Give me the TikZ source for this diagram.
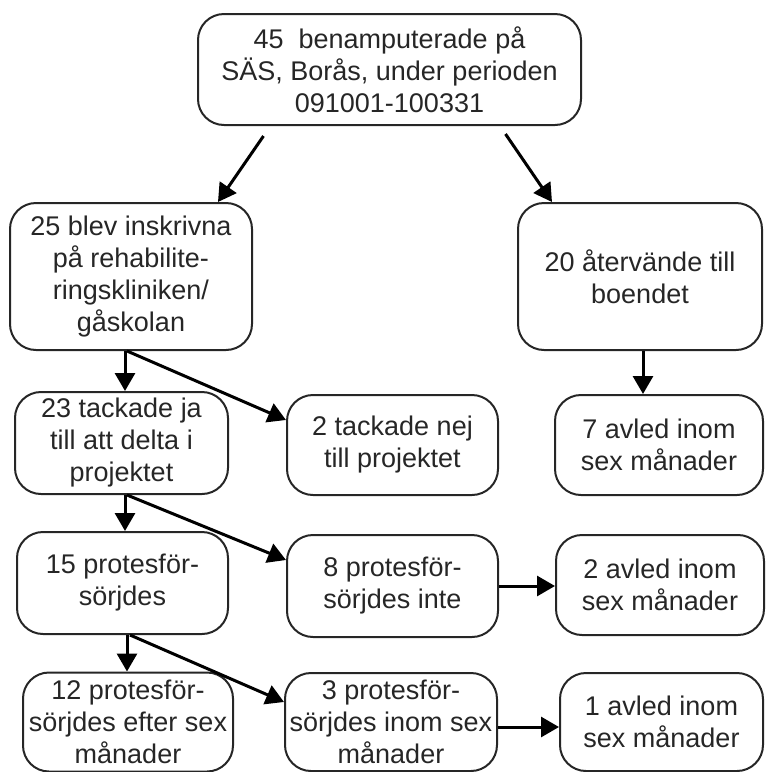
\documentclass[tikz,border=0pt]{standalone}
\usepackage{fontspec}
\setmainfont{Liberation Sans}
\usetikzlibrary{arrows.meta}
\begin{document}
\begin{tikzpicture}[x=1pt, y=-1pt,
    main/.style = {draw=black!85, line width=2pt, rounded corners=26pt, align=center, inner sep=0pt,
        text=black!85, font=\fontsize{27}{32}\selectfont},
    arr/.style = {line width=3pt, -{Triangle[length=18pt,width=20pt]}}]
        \useasboundingbox (0,0) rectangle (766,772);
        \node[main, minimum width=383pt, minimum height=111pt] (1) at (389.5,69.5) {45~ benamputerade på\\SÄS, Borås, under perioden\\091001-100331};
        \node[main, minimum width=242pt, minimum height=147pt] (2) at (131,276.5) {25 blev inskrivna\\på rehabilite-\\ringskliniken/\\gåskolan};
        \node[main, minimum width=244pt, minimum height=147pt] (3) at (640,276.5) {20 återvände till\\boendet};
        \node[main, minimum width=213pt, minimum height=102pt] (4) at (121.5,443) {23 tackade ja\\till att delta i\\projektet};
        \node[main, minimum width=211pt, minimum height=100pt] (5) at (392.5,445) {2 tackade nej\\till projektet};
        \node[main, minimum width=208pt, minimum height=100pt] (6) at (659,445) {7 avled inom\\sex månader};
        \node[main, minimum width=211pt, minimum height=102pt] (7) at (122.5,583) {15 protesför-\\sörjdes};
        \node[main, minimum width=211pt, minimum height=102pt] (8) at (392.5,586) {8 protesför-\\sörjdes inte};
        \node[main, minimum width=208pt, minimum height=100pt] (9) at (660,585) {2 avled inom\\sex månader};
        \node[main, minimum width=210pt, minimum height=99pt] (10) at (128,722) {12 protesför-\\sörjdes efter sex\\månader};
        \node[main, minimum width=212pt, minimum height=98pt] (11) at (391,722) {3 protesför-\\sörjdes inom sex\\månader};
        \node[main, minimum width=203pt, minimum height=98pt] (12) at (661.5,722) {1 avled inom\\sex månader};
        \draw[arr] ([xshift=-126pt,yshift=-10pt]1.south) -- ([xshift=87pt]2.north);
        \draw[arr] ([xshift=116pt,yshift=-8pt]1.south) -- ([xshift=-88pt]3.north);
        \draw[arr] ([xshift=3pt]3.south) -- ([xshift=3pt]3.south |- 6.north);
        \draw[arr] ([xshift=-6pt]2.south) -- ([xshift=-6pt]2.south |- 4.north);
        \draw[arr] ([xshift=-4pt]2.south) -- ([yshift=25pt]5.west);
        \draw[arr] ([xshift=3.5pt]4.south) -- ([xshift=3.5pt]4.south |- 7.north);
        \draw[arr] ([xshift=5.5pt]4.south) -- ([yshift=26pt]8.west);
        \draw[arr] ([xshift=4.5pt]7.south) -- ([xshift=4.5pt]7.south |- 10.north);
        \draw[arr] ([xshift=7.5pt]7.south) -- ([yshift=20pt]11.west);
        \draw[arr] (8.east) -- (8.east -| 9.west);
        \draw[arr] ([yshift=-5pt]11.east) -- ([yshift=-5pt]11.east -| 12.west);
    \end{tikzpicture}
\end{document}
